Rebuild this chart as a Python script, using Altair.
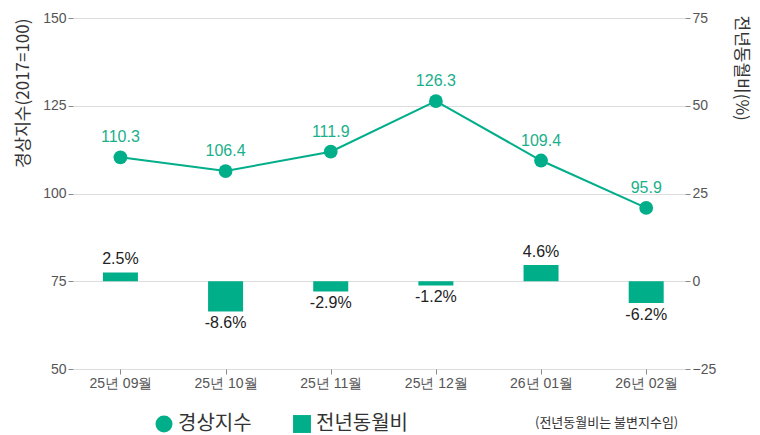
import altair as alt
import pandas as pd

months = ["25년 09월", "25년 10월", "25년 11월", "25년 12월", "26년 01월", "26년 02월"]
index_vals = [110.3, 106.4, 111.9, 126.3, 109.4, 95.9]
yoy_vals = [2.5, -8.6, -2.9, -1.2, 4.6, -6.2]

df = pd.DataFrame({
    "month": months,
    "index": index_vals,
    "yoy": yoy_vals,
    "series_line": ["경상지수"] * len(months),
    "series_bar": ["전년동월비"] * len(months),
})
df["index_label"] = df["index"].map(lambda v: f"{v:.1f}")
df["yoy_label"] = df["yoy"].map(lambda v: f"{v:.1f}%")

GREEN = "#00AE8A"
KFONT = "Noto Sans CJK KR"
NFONT = "Liberation Sans"

base = alt.Chart(df)
xenc = alt.X("month:N", sort=months, title=None,
             scale=alt.Scale(type="point", padding=0.41, align=0.55),
             axis=alt.Axis(labelAngle=0, domain=False, ticks=True, tickSize=5,
                           tickColor="#888", labelPadding=2, labelFontSize=14,
                           labelFont=NFONT, labelColor="#555", grid=False))

yleft = alt.Y("index:Q", title="경상지수(2017=100)",
              scale=alt.Scale(domain=[50, 150], nice=False, zero=False),
              axis=alt.Axis(values=[50, 75, 100, 125, 150], grid=True, gridColor="#dddddd",
                            domain=False, tickSize=5, tickColor="#888", labelFontSize=14,
                            labelFont=NFONT, labelColor="#555", titleFont=KFONT,
                            titleFontSize=17, titleFontWeight="normal", titleColor="#333",
                            titleAnchor="end", titlePadding=10))

line = base.mark_line(color=GREEN, strokeWidth=2).encode(x=xenc, y=yleft)
points = base.mark_point(filled=True, size=190, opacity=1).encode(
    x=xenc, y=yleft,
    color=alt.Color("series_line:N", title=None,
                    scale=alt.Scale(domain=["경상지수"], range=[GREEN]),
                    legend=alt.Legend(orient="none", legendX=81, legendY=396,
                                      symbolType="circle", symbolSize=290,
                                      symbolFillColor="#2BAA8A",
                                      labelFont=KFONT, labelFontSize=20,
                                      labelColor="#333", symbolStrokeWidth=0)),
)
line_labels = base.mark_text(dy=-20, fontSize=16, font=NFONT, color="#1AAF8B").encode(
    x=xenc, y=yleft, text="index_label:N")

left = alt.layer(line, points, line_labels)

yright = alt.Y("yoy:Q", title="전년동월비(%)",
               scale=alt.Scale(domain=[-25, 75], nice=False, zero=False),
               axis=alt.Axis(orient="right", values=[-25, 0, 25, 50, 75], grid=False,
                             domain=False, tickSize=5, tickColor="#888", labelFontSize=14,
                             labelFont=NFONT, labelColor="#555", titleFont=KFONT,
                             titleFontSize=17, titleFontWeight="normal", titleColor="#333",
                             titleAngle=90, titleAnchor="end", titleAlign="left",
                             titlePadding=16, titleY=-3))

bars = base.mark_bar(size=35).encode(
    x=xenc, y=yright, y2=alt.Y2(datum=0),
    color=alt.Color("series_bar:N", title=None,
                    scale=alt.Scale(domain=["전년동월비"], range=[GREEN]),
                    legend=alt.Legend(orient="none", legendX=219, legendY=396,
                                      symbolType="square", symbolSize=320,
                                      symbolFillColor="#84C7B0", symbolStrokeWidth=0,
                                      labelFont=KFONT, labelFontSize=20,
                                      labelColor="#333")),
)
pos_labels = base.transform_filter("datum.yoy >= 0").mark_text(
    baseline="bottom", dy=-5, fontSize=16, font=NFONT, color="#222").encode(
    x=xenc, y=yright, text="yoy_label:N")
neg_labels = base.transform_filter("datum.yoy < 0").mark_text(
    baseline="top", dy=4, fontSize=16, font=NFONT, color="#222").encode(
    x=xenc, y=yright, text="yoy_label:N")

right = alt.layer(bars, pos_labels, neg_labels)

note = alt.Chart(pd.DataFrame({"t": ["(전년동월비는 불변지수임)"]})).mark_text(
    align="left", baseline="middle", fontSize=13, font=KFONT, color="#333").encode(
    x=alt.value(462), y=alt.value(405), text="t:N")

chart = alt.layer(right, left, note).resolve_scale(
    y="independent", color="independent").resolve_legend(color="independent").properties(
    width=612, height=351,
    background="white",
    autosize=alt.AutoSizeParams(type="none"),
    padding={"left": 73, "top": 18, "right": 75, "bottom": 66},
).configure_view(stroke=None).configure_axis(domain=False)

chart.save("out.html", embed_options={"renderer": "svg", "actions": False})
